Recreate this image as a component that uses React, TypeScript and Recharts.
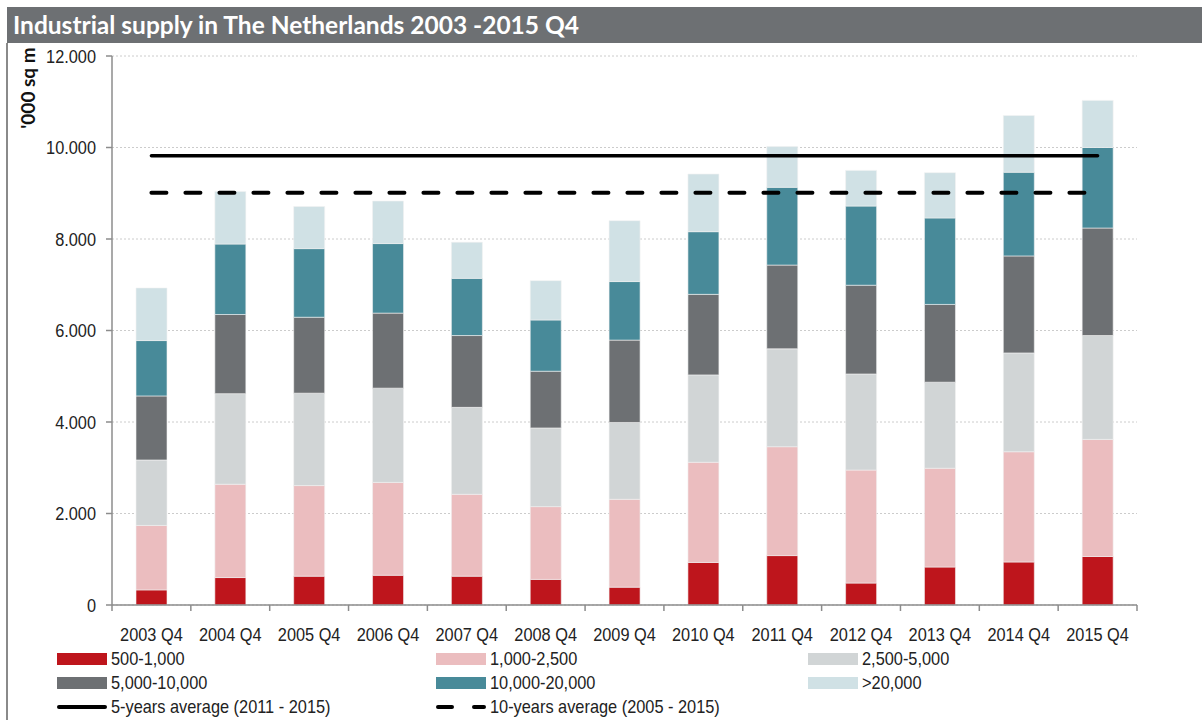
import React from "react";
import {
  ComposedChart, Bar, Line, XAxis, YAxis, CartesianGrid,
} from "recharts";

const categories = [
  "2003 Q4", "2004 Q4", "2005 Q4", "2006 Q4", "2007 Q4", "2008 Q4", "2009 Q4",
  "2010 Q4", "2011 Q4", "2012 Q4", "2013 Q4", "2014 Q4", "2015 Q4",
];

// '000 sq m per size class
const s500_1000 = [330, 600, 630, 650, 630, 560, 390, 930, 1080, 480, 830, 940, 1060];
const s1000_2500 = [1410, 2040, 1980, 2030, 1790, 1590, 1920, 2190, 2380, 2470, 2160, 2410, 2560];
const s2500_5000 = [1430, 1980, 2020, 2060, 1900, 1720, 1680, 1910, 2140, 2100, 1880, 2160, 2270];
const s5000_10000 = [1400, 1730, 1660, 1640, 1570, 1240, 1800, 1760, 1830, 1940, 1700, 2120, 2350];
const s10000_20000 = [1210, 1540, 1500, 1520, 1250, 1120, 1280, 1370, 1700, 1730, 1890, 1830, 1760];
const s20000plus = [1150, 1150, 920, 930, 790, 860, 1330, 1260, 890, 780, 990, 1240, 1030];

const avg5 = 9820;   // 5-years average (2011 - 2015)
const avg10 = 9010;  // 10-years average (2005 - 2015)

const yTicks = [0, 2000, 4000, 6000, 8000, 10000, 12000];

const SERIES = [
  { key: "a", label: "500-1,000", values: s500_1000, color: "#be151c" },
  { key: "b", label: "1,000-2,500", values: s1000_2500, color: "#ebbdbf" },
  { key: "c", label: "2,500-5,000", values: s2500_5000, color: "#d1d5d6" },
  { key: "d", label: "5,000-10,000", values: s5000_10000, color: "#6d7073" },
  { key: "e", label: "10,000-20,000", values: s10000_20000, color: "#488a99" },
  { key: "f", label: ">20,000", values: s20000plus, color: "#d0e1e5" },
];

const data = categories.map((name, i) => {
  const row: Record<string, number | string> = { name, avg5, avg10 };
  SERIES.forEach((s) => { row[s.key] = s.values[i]; });
  return row;
});

const W = 1202;
const H = 720;
const X_H = 115;
const M = { top: 56, right: 65, bottom: 0, left: 0 };
const Y_W = 112;
const BAND = (W - M.left - M.right - Y_W) / categories.length;

const FONT = "'Liberation Sans', Arial, sans-serif";
const FS = 19;
const SQUEEZE = 0.86;
const AXIS = "#8c8c8c";

function fmtY(v: number) {
  return v === 0 ? "0" : v.toLocaleString("de-DE");
}

function XTick(props: any) {
  const { x, y, payload, index } = props;
  const last = index === categories.length - 1;
  return (
    <g>
      <line x1={x - BAND / 2} y1={y - 8} x2={x - BAND / 2} y2={y - 2} stroke={AXIS} strokeWidth={1.5} />
      {last && <line x1={x + BAND / 2} y1={y - 8} x2={x + BAND / 2} y2={y - 2} stroke={AXIS} strokeWidth={1.5} />}
      <text transform={`translate(${x},${y + 28}) scale(${SQUEEZE},1)`} textAnchor="middle"
        fontSize={FS} fontFamily={FONT} fill="#222">
        {payload.value}
      </text>
    </g>
  );
}

function YTick(props: any) {
  const { x, y, payload } = props;
  return (
    <text transform={`translate(${x},${y + 6.5}) scale(${SQUEEZE},1)`} textAnchor="end"
      fontSize={FS} fontFamily={FONT} fill="#222">
      {fmtY(payload.value)}
    </text>
  );
}

function Swatch({ color }: { color: string }) {
  return <div style={{ width: 50, height: 12, background: color, flexShrink: 0 }} />;
}

function LineSwatch({ dashed }: { dashed?: boolean }) {
  return (
    <svg width={50} height={8} style={{ flexShrink: 0 }}>
      <line x1={2} y1={4} x2={48} y2={4} stroke="#000" strokeWidth={4} strokeLinecap="round"
        strokeDasharray={dashed ? "14 22" : undefined} />
    </svg>
  );
}

const LEG_X = [57, 436, 808];
const LEG_Y = [659, 683, 707];

export default function App() {
  const legendItems = [
    ...SERIES.map((s) => ({ label: s.label, el: <Swatch color={s.color} /> })),
    { label: "5-years average (2011 - 2015)", el: <LineSwatch /> },
    { label: "10-years average (2005 - 2015)", el: <LineSwatch dashed /> },
  ];

  return (
    <div style={{ position: "absolute", left: 0, top: 0, width: W, height: H, background: "#fff", overflow: "hidden" }}>
      <div style={{ position: "absolute", left: 7, top: 7, width: W - 7, height: 36, background: "#6d7073" }} />
      <div style={{
        position: "absolute", left: 13, top: 8, color: "#fff", fontFamily: "Lato, 'Open Sans', sans-serif",
        fontWeight: 700, fontSize: 24.5, lineHeight: "34px", whiteSpace: "nowrap",
      }}>
        Industrial supply in The Netherlands 2003 -2015 Q4
      </div>
      <div style={{ position: "absolute", left: 6, top: 43, width: 2, height: H - 43, background: "#8a8a8a" }} />
      <div style={{
        position: "absolute", left: 27, top: 88, transform: "translate(-50%, -50%) rotate(-90deg)",
        fontFamily: "Lato, 'Open Sans', sans-serif", fontWeight: 700, fontSize: 19, color: "#111", whiteSpace: "nowrap",
      }}>
        '000 sq m
      </div>

      <div style={{ position: "absolute", left: 0, top: 0 }}>
        <ComposedChart width={W} height={H} data={data} margin={M} barSize={31}>
          <CartesianGrid horizontal vertical={false} stroke="#cccccc" strokeDasharray="2 2" />
          <XAxis dataKey="name" axisLine={{ stroke: AXIS, strokeWidth: 1.5 }} tickLine={false}
            tick={<XTick />} interval={0} height={X_H} />
          <YAxis domain={[0, 12000]} ticks={yTicks} width={Y_W}
            axisLine={{ stroke: AXIS, strokeWidth: 1.5 }} tickLine={{ stroke: AXIS, strokeWidth: 1.5 }}
            tickSize={6} tickMargin={10} tick={<YTick />} />
          {SERIES.map((s) => (
            <Bar key={s.key} dataKey={s.key} stackId="supply" fill={s.color}
              stroke="#f2f2f2" strokeWidth={0.6} isAnimationActive={false} />
          ))}
          <Line dataKey="avg5" stroke="#000" strokeWidth={3.5} dot={false} strokeLinecap="round"
            isAnimationActive={false} />
          <Line dataKey="avg10" stroke="#000" strokeWidth={4} dot={false} strokeLinecap="round"
            strokeDasharray="15 19" isAnimationActive={false} />
        </ComposedChart>
      </div>

      {legendItems.map((it, i) => {
        const col = i < 6 ? i % 3 : i - 6;
        const row = i < 6 ? Math.floor(i / 3) : 2;
        return (
          <div key={it.label} style={{
            position: "absolute", left: LEG_X[col], top: LEG_Y[row] - 12, height: 24,
            display: "flex", alignItems: "center", gap: 4,
            fontFamily: FONT, fontSize: FS, color: "#222", whiteSpace: "nowrap",
          }}>
            {it.el}
            <span style={{ display: "inline-block", transform: `scaleX(${SQUEEZE})`, transformOrigin: "left center" }}>
              {it.label}
            </span>
          </div>
        );
      })}
    </div>
  );
}
